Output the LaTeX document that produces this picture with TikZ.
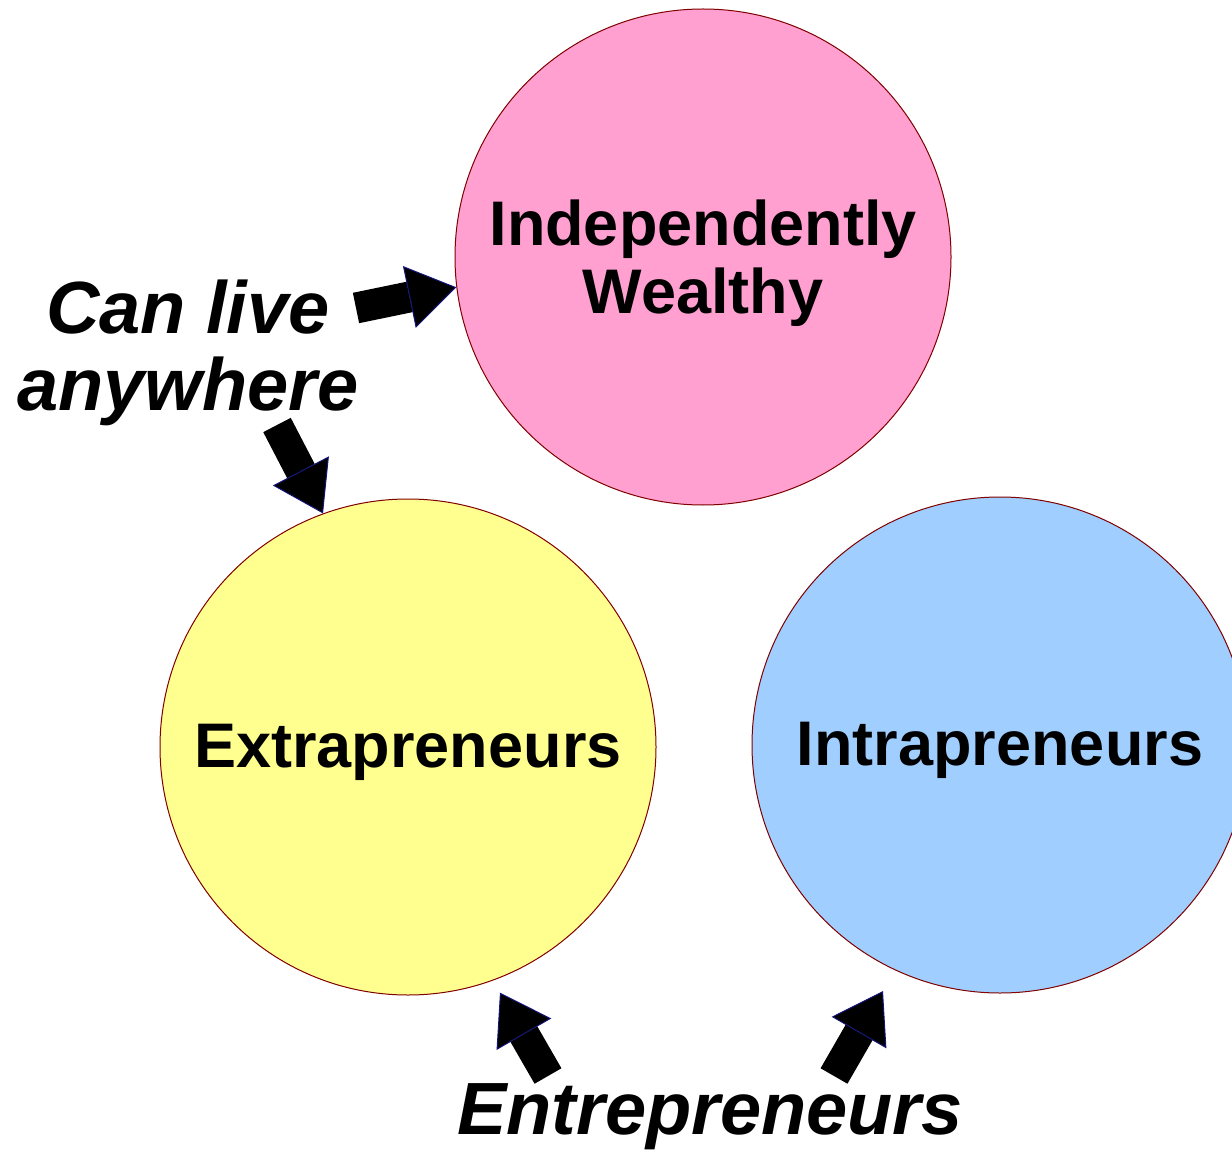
\documentclass[tikz,border=0pt]{standalone}
\usepackage{fontspec}
\setmainfont{Liberation Sans}
\usetikzlibrary{arrows.meta}
\definecolor{pinkfill}{RGB}{255,160,208}
\definecolor{yellowfill}{RGB}{255,255,143}
\definecolor{bluefill}{RGB}{160,207,255}
\definecolor{rimred}{RGB}{128,0,0}
\definecolor{tipblue}{RGB}{20,20,120}

\begin{document}
\begin{tikzpicture}[x=1pt,y=-1pt,
    bubble/.style={circle,draw=rimred,line width=1pt,minimum size=496pt,inner sep=0pt,
      align=center,font=\fontsize{63}{68}\selectfont\bfseries},
    caption/.style={align=center,font=\fontsize{74}{77}\selectfont\bfseries\itshape},
    fatarrow/.style={line width=31pt,
      -{Triangle[width=63pt,length=48pt,line width=1pt,color=tipblue,fill=black]}}]
    \useasboundingbox (0,0) rectangle (1232,1150);
    % circles
    \node[bubble,fill=pinkfill] (wealthy) at (703,257) {};
    \node[bubble,fill=yellowfill] (extra) at (408,747) {};
    \node[bubble,fill=bluefill] (intra) at (1000,745) {};
    % circle labels
    \node[align=center,font=\fontsize{63}{68}\selectfont\bfseries] (wealthytxt)
      at ([yshift=-6pt]wealthy.center) {Independently\\Wealthy};
    \node[font=\fontsize{63}{68}\selectfont\bfseries] (extratxt)
      at ([yshift=-5pt]extra.center) {Extrapreneurs};
    \node[font=\fontsize{63}{68}\selectfont\bfseries] (intratxt)
      at ([yshift=-5pt]intra.center) {Intrapreneurs};
    % captions
    \node[caption] (anywhere) at (188,353) {Can live\\anywhere};
    \node[caption,anchor=base] (entre) at (710,1134) {Entrepreneurs};
    % arrow tails
    \coordinate (t1) at (356,308);
    \coordinate (t2) at (277,425);
    \coordinate (t3) at (548,1076);
    \coordinate (t4) at (834,1076);
    % arrows
    \draw[fatarrow] (t1) -- (wealthy.187);
    \draw[fatarrow] (t2) -- (extra.110);
    \draw[fatarrow,shorten >=14pt] (t3) -- (extra.290);
    \draw[fatarrow,shorten >=24pt] (t4) -- (intra.245);
\end{tikzpicture}
\end{document}
